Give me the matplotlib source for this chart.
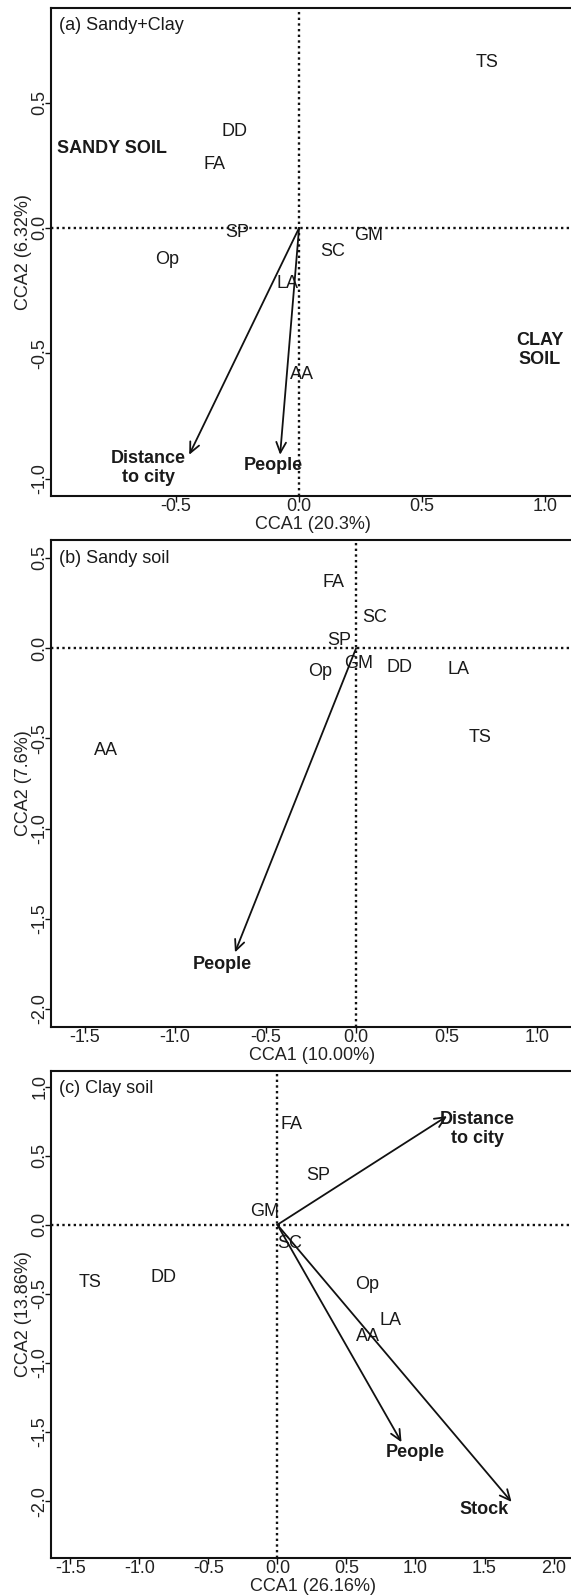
import numpy as np
import matplotlib
matplotlib.use("Agg")
import matplotlib.pyplot as plt

plt.rcParams['font.family'] = ['Liberation Sans', 'DejaVu Sans']
plt.rcParams['font.size'] = 13
plt.rcParams['text.color'] = '#1a1a1a'

FS = 13

# ---- panel (a) Sandy+Clay ----
a_species = ['TS', 'DD', 'FA', 'SP', 'GM', 'SC', 'Op', 'LA', 'AA']
a_sx = [0.762, -0.263, -0.342, -0.253, 0.282, 0.138, -0.535, -0.047, 0.012]
a_sy = [0.658, 0.384, 0.253, -0.017, -0.032, -0.093, -0.124, -0.222, -0.583]
a_env = ['Distance\nto city', 'People']
a_ex = [-0.446, -0.077]
a_ey = [-0.905, -0.905]
a_lx = [-0.612, -0.104]
a_ly = [-0.956, -0.949]
a_zone = ['SANDY SOIL', 'CLAY\nSOIL']
a_zx = [-0.761, 0.977]
a_zy = [0.318, -0.486]

# ---- panel (b) Sandy soil ----
b_species = ['FA', 'SC', 'SP', 'GM', 'Op', 'DD', 'LA', 'TS', 'AA']
b_sx = [-0.126, 0.102, -0.092, 0.015, -0.200, 0.240, 0.564, 0.685, -1.379]
b_sy = [0.362, 0.169, 0.041, -0.088, -0.130, -0.107, -0.120, -0.493, -0.566]
b_env = ['People']
b_ex = [-0.669]
b_ey = [-1.686]
b_lx = [-0.739]
b_ly = [-1.756]

# ---- panel (c) Clay soil ----
c_species = ['FA', 'SP', 'GM', 'SC', 'TS', 'DD', 'Op', 'LA', 'AA']
c_sx = [0.100, 0.298, -0.089, 0.088, -1.357, -0.828, 0.649, 0.818, 0.655]
c_sy = [0.723, 0.358, 0.095, -0.132, -0.416, -0.378, -0.434, -0.691, -0.811]
c_env = ['Distance\nto city', 'People', 'Stock']
c_ex = [1.229, 0.899, 1.696]
c_ey = [0.786, -1.573, -2.005]
c_lx = [1.451, 0.997, 1.498]
c_ly = [0.694, -1.648, -2.060]

panels = [
    dict(title='(a) Sandy+Clay', xlab='CCA1 (20.3%)', ylab='CCA2 (6.32%)',
         xlim=(-1.007, 1.116), ylim=(-1.069, 0.879),
         xt=[-0.5, 0.0, 0.5, 1.0], yt=[-1.0, -0.5, 0.0, 0.5],
         sp=(a_species, a_sx, a_sy), env=(a_env, a_ex, a_ey, a_lx, a_ly),
         rect=(7.6, 495.9)),
    dict(title='(b) Sandy soil', xlab='CCA1 (10.00%)', ylab='CCA2 (7.6%)',
         xlim=(-1.685, 1.203), ylim=(-2.099, 0.599),
         xt=[-1.5, -1.0, -0.5, 0.0, 0.5, 1.0], yt=[-2.0, -1.5, -1.0, -0.5, 0.0, 0.5],
         sp=(b_species, b_sx, b_sy), env=(b_env, b_ex, b_ey, b_lx, b_ly),
         rect=(540.0, 1026.9)),
    dict(title='(c) Clay soil', xlab='CCA1 (26.16%)', ylab='CCA2 (13.86%)',
         xlim=(-1.639, 2.148), ylim=(-2.412, 1.113),
         xt=[-1.5, -1.0, -0.5, 0.0, 0.5, 1.0, 1.5, 2.0],
         yt=[-2.0, -1.5, -1.0, -0.5, 0.0, 0.5, 1.0],
         sp=(c_species, c_sx, c_sy), env=(c_env, c_ex, c_ey, c_lx, c_ly),
         rect=(1070.9, 1558.2)),
]

W, H = 571, 1595
fig = plt.figure(figsize=(W / 100, H / 100), dpi=100)

for i, p in enumerate(panels):
    top, bot = p['rect']
    ax = fig.add_axes([51 / W, 1 - bot / H, (574 - 51) / W, (bot - top) / H])
    ax.set_xlim(*p['xlim'])
    ax.set_ylim(*p['ylim'])
    ax.axhline(0, color='#111111', lw=1.7, ls=(0, (1, 1.4)))
    ax.axvline(0, color='#111111', lw=1.7, ls=(0, (1, 1.4)))

    names, sx, sy = p['sp']
    for n, x, y in zip(names, sx, sy):
        ax.text(x, y, n, ha='center', va='center', fontsize=FS)

    env, ex, ey, lx, ly = p['env']
    for n, x, y, tx, ty in zip(env, ex, ey, lx, ly):
        ax.annotate('', xy=(x, y), xytext=(0, 0),
                    arrowprops=dict(arrowstyle='->,head_length=0.75,head_width=0.35',
                                    lw=1.3, color='#111111', shrinkA=0, shrinkB=0,
                                    mutation_scale=10))
        ax.text(tx, ty, n, ha='center', va='center', fontsize=FS,
                fontweight='bold', linespacing=1.15)

    if i == 0:
        for n, x, y in zip(a_zone, a_zx, a_zy):
            ax.text(x, y, n, ha='center', va='center', fontsize=FS,
                    fontweight='bold', linespacing=1.15)

    ax.text(0.016, 0.963, p['title'], transform=ax.transAxes,
            ha='left', va='center', fontsize=FS)

    ax.set_xticks(p['xt'])
    ax.set_yticks(p['yt'])
    ax.set_xticklabels([f'{v:.1f}' for v in p['xt']])
    ax.set_yticklabels([f'{v:.1f}' for v in p['yt']], rotation=90, va='center')
    ax.tick_params(direction='out', length=4, width=1,
                   labelsize=FS, labelcolor='#222222', color='#111111')
    ax.tick_params(axis='x', pad=-2.5)
    ax.tick_params(axis='y', pad=-2.0)
    for s in ax.spines.values():
        s.set_linewidth(1.5)
        s.set_color('#111111')

    h = bot - top
    ax.set_xlabel(p['xlab'], fontsize=FS, color='#222222')
    ax.xaxis.set_label_coords(0.5, -28.5 / h)
    ax.xaxis.label.set_va('center')
    ax.set_ylabel(p['ylab'], fontsize=FS, color='#222222')
    ax.yaxis.set_label_coords(-27 / 523, 0.5)
    ax.yaxis.label.set_va('center')

fig.savefig('out.png', dpi=100)
